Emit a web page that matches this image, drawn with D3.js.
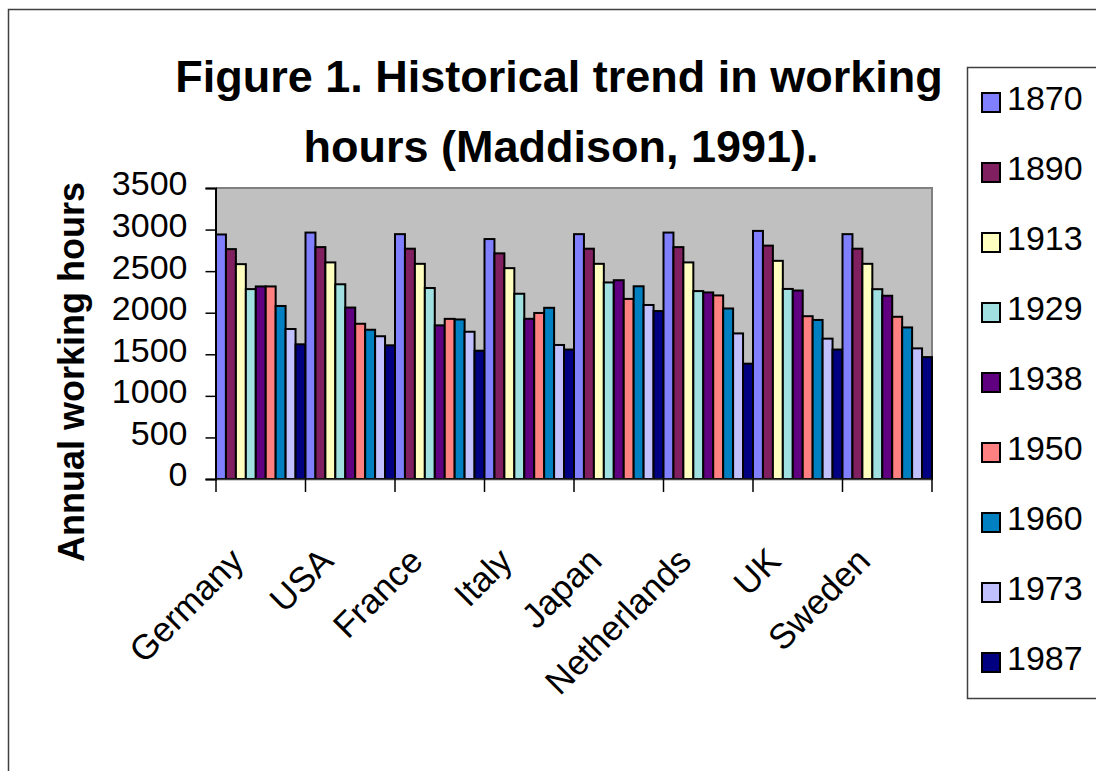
<!DOCTYPE html>
<html>
<head>
<meta charset="utf-8">
<script src="https://cdn.jsdelivr.net/npm/d3@7"></script>
<style>
  html, body { margin: 0; padding: 0; background: #fff; }
  svg { display: block; }
  text { font-family: "Liberation Sans", Arial, sans-serif; fill: #000; }
</style>
</head>
<body>
<svg id="chart" width="1096" height="771"></svg>
<script>
// ---- data ----
const countries = ["Germany", "USA", "France", "Italy", "Japan", "Netherlands", "UK", "Sweden"];
const years = ["1870", "1890", "1913", "1929", "1938", "1950", "1960", "1973", "1987"];
const hours1870 = [2941, 2964, 2945, 2886, 2945, 2964, 2984, 2945];
const hours1890 = [2765, 2789, 2770, 2714, 2770, 2789, 2807, 2770];
const hours1913 = [2584, 2605, 2588, 2536, 2588, 2605, 2624, 2588];
const hours1929 = [2284, 2342, 2297, 2228, 2364, 2260, 2286, 2283];
const hours1938 = [2316, 2062, 1848, 1927, 2391, 2244, 2267, 2204];
const hours1950 = [2316, 1867, 1926, 1997, 2166, 2208, 1958, 1951];
const hours1960 = [2081, 1795, 1919, 2059, 2318, 2051, 1913, 1823];
const hours1973 = [1804, 1717, 1771, 1612, 2093, 1751, 1688, 1571];
const hours1987 = [1620, 1608, 1543, 1557, 2020, 1387, 1557, 1466];
const yTicks = [0, 500, 1000, 1500, 2000, 2500, 3000, 3500];
const colors = ["#8080FF", "#802060", "#FFFFC0", "#A0E0E0", "#600080", "#FF8080", "#0080C0", "#C0C0FF", "#000080"];

const series = [hours1870, hours1890, hours1913, hours1929, hours1938, hours1950, hours1960, hours1973, hours1987];
const table = countries.map((c, i) => ({ country: c, values: years.map((yr, j) => ({ year: yr, value: series[j][i], color: colors[j] })) }));

// ---- layout ----
const svg = d3.select("#chart");
const plot = { left: 216, right: 932, top: 188, bottom: 479 };
const font = '"Liberation Sans", Arial, sans-serif';

// outer frame
svg.append("rect").attr("x", 8.5).attr("y", 9.5).attr("width", 1200).attr("height", 900)
  .attr("fill", "#fff").attr("stroke", "#404040").attr("stroke-width", 1.5);

const x = d3.scaleBand().domain(countries).range([plot.left, plot.right]).paddingInner(0).paddingOuter(0);
const xi = d3.scaleBand().domain(years).range([0, x.bandwidth()]).padding(0);
const y = d3.scaleLinear().domain([0, 3500]).range([plot.bottom, plot.top]);

// plot area background
svg.append("rect").attr("x", plot.left).attr("y", plot.top)
  .attr("width", plot.right - plot.left).attr("height", plot.bottom - plot.top)
  .attr("fill", "#C0C0C0");
svg.append("path")
  .attr("d", `M${plot.left},${plot.top}H${plot.right}V${plot.bottom}`)
  .attr("fill", "none").attr("stroke", "#808080").attr("stroke-width", 2);

// bars
const groups = svg.append("g").selectAll("g").data(table).join("g")
  .attr("transform", d => `translate(${x(d.country)},0)`);
groups.selectAll("rect").data(d => d.values).join("rect")
  .attr("x", d => xi(d.year))
  .attr("y", d => y(d.value))
  .attr("width", xi.bandwidth())
  .attr("height", d => y(0) - y(d.value))
  .attr("fill", d => d.color)
  .attr("stroke", "#000").attr("stroke-width", 2);

// y axis
const yAxis = svg.append("g").attr("transform", `translate(${plot.left - 0.5},0)`)
  .call(d3.axisLeft(y).tickValues(yTicks).tickSize(10).tickPadding(18).tickFormat(d3.format("d")));
yAxis.select(".domain").attr("stroke", "#000").attr("stroke-width", 2);
yAxis.selectAll(".tick line").attr("stroke", "#000").attr("stroke-width", 1.5);
yAxis.selectAll(".tick text").attr("font-size", 34).attr("font-family", font).attr("y", -4).attr("fill", "#000");

// x axis
const xAxis = svg.append("g").attr("transform", `translate(0,${plot.bottom})`)
  .call(d3.axisBottom(x).tickSize(0).tickPadding(0));
xAxis.select(".domain").attr("stroke", "#404040").attr("stroke-width", 1.5);
xAxis.selectAll(".tick text")
  .attr("font-size", 35).attr("font-family", font)
  .attr("text-anchor", "end").attr("dy", 0)
  .attr("transform", "translate(-15,84) rotate(-45)");
const boundaries = countries.map(c => x(c)).concat([x.range()[1]]);
svg.append("g").selectAll("line").data(boundaries).join("line")
  .attr("x1", d => d).attr("x2", d => d)
  .attr("y1", plot.bottom).attr("y2", plot.bottom + 13)
  .attr("stroke", "#000").attr("stroke-width", 1.5);

// title
const title = svg.append("text").attr("text-anchor", "middle").attr("font-weight", "bold").attr("font-size", 45);
title.append("tspan").attr("x", 559).attr("y", 92).text("Figure 1. Historical trend in working");
title.append("tspan").attr("x", 561).attr("y", 162).text("hours (Maddison, 1991).");

// y axis title
svg.append("text").attr("transform", "translate(84,372) rotate(-90)")
  .attr("text-anchor", "middle").attr("font-weight", "bold").attr("font-size", 36)
  .text("Annual working hours");

// legend
const legend = svg.append("g");
legend.append("rect").attr("x", 967.5).attr("y", 67.5).attr("width", 200).attr("height", 631)
  .attr("fill", "#fff").attr("stroke", "#404040").attr("stroke-width", 1.5);
const items = legend.selectAll("g.item").data(years).join("g").attr("class", "item")
  .attr("transform", (d, i) => `translate(0,${110 + i * 70})`);
items.append("rect").attr("x", 982).attr("y", -17).attr("width", 18).attr("height", 19)
  .attr("fill", (d, i) => colors[i]).attr("stroke", "#000").attr("stroke-width", 2);
items.append("text").attr("x", 1007).attr("y", 0).attr("font-size", 34).text(d => d);
</script>
</body>
</html>
